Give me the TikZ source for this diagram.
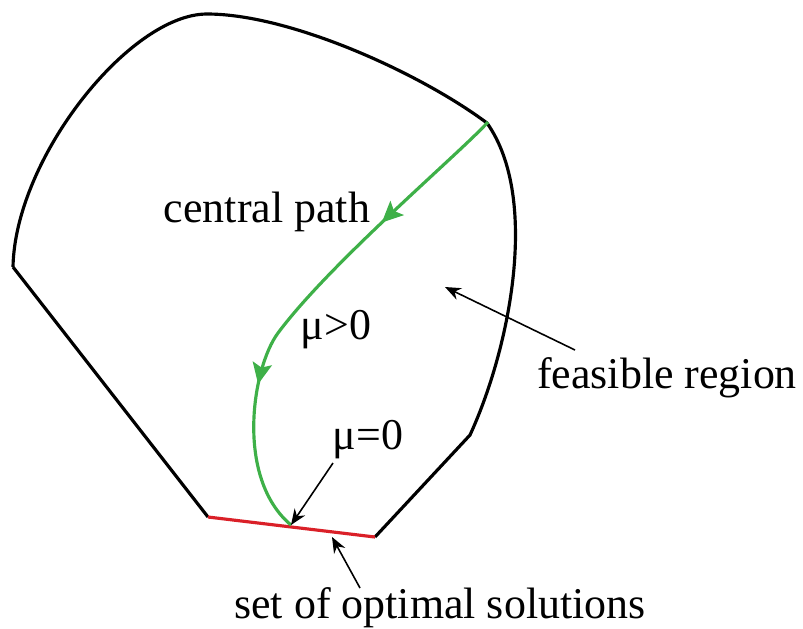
\documentclass[tikz,border=0pt]{standalone}
\usepackage{fontspec}
\setmainfont{Liberation Serif}
\newfontfamily\figfont{Liberation Serif}
\usepackage{xcolor}
\usetikzlibrary{decorations.markings,arrows.meta}
\definecolor{pathgreen}{RGB}{62,176,72}
\definecolor{optred}{RGB}{218,32,40}

\begin{document}
\begin{tikzpicture}[
  lbl/.style={font=\figfont\fontsize{12.5}{15}\selectfont,inner sep=1pt},
  pointer/.style={line width=0.45pt,-{Stealth[length=4.5pt,width=3.6pt]}},
  border/.style={line width=0.9pt,line join=miter}
]
  \useasboundingbox (0,0) rectangle (8.03,6.28);
  \coordinate (l) at (0.13,3.61); \coordinate (b1) at (2.08,1.11);
  \coordinate (b2) at (3.75,0.91); \coordinate (r1) at (4.70,1.93);
  \coordinate (t) at (4.87,5.05); \coordinate (top) at (2.07,6.14);
  \coordinate (opt) at (2.91,1.03);
  % feasible region
  \draw[border] (l) -- (b1) (b2) -- (r1)
    .. controls (5.1,2.8) and (5.4,4.3) .. (t)
    .. controls (4.2,5.55) and (2.9,6.14) .. (top)
    .. controls (1.3,6.14) and (0.15,4.7) .. (l);
  \draw[optred,line width=0.9pt] (b1) -- (b2);
  % central path
  \draw[pathgreen,line width=0.9pt,
    decoration={markings,
      mark=at position 0.29 with {\arrow{Stealth[length=6pt,width=5.5pt,inset=1.2pt]}},
      mark=at position 0.70 with {\arrow{Stealth[length=6pt,width=5.5pt,inset=1.2pt]}}},
    postaction={decorate}]
    (4.88,5.06) .. controls (4.6,4.75) and (3.3,3.65) .. (2.78,2.95)
    .. controls (2.52,2.6) and (2.35,1.5) .. (opt);
  \node[lbl] (cp) at (2.67,4.16) {central path};
  \node[lbl] (mpos) at (3.36,2.98) {μ>0};
  \node[lbl] (feas) at (6.67,2.50) {feasible region};
  \node[lbl] (mzero) at (3.68,1.88) {μ=0};
  \node[lbl] (sos) at (4.40,0.20) {set of optimal solutions};
  \coordinate (fin) at (4.45,3.41);
  \coordinate (fout) at (5.75,2.78);
  \coordinate (mz) at (3.33,1.65);
  \coordinate (sosin) at (3.60,0.40);
  \coordinate (sosend) at (3.32,0.91);
  \draw[pointer] (fout) -- (fin);
  \draw[pointer] (mz) -- (opt);
  \draw[pointer] (sosin) -- (sosend);
\end{tikzpicture}
\end{document}
